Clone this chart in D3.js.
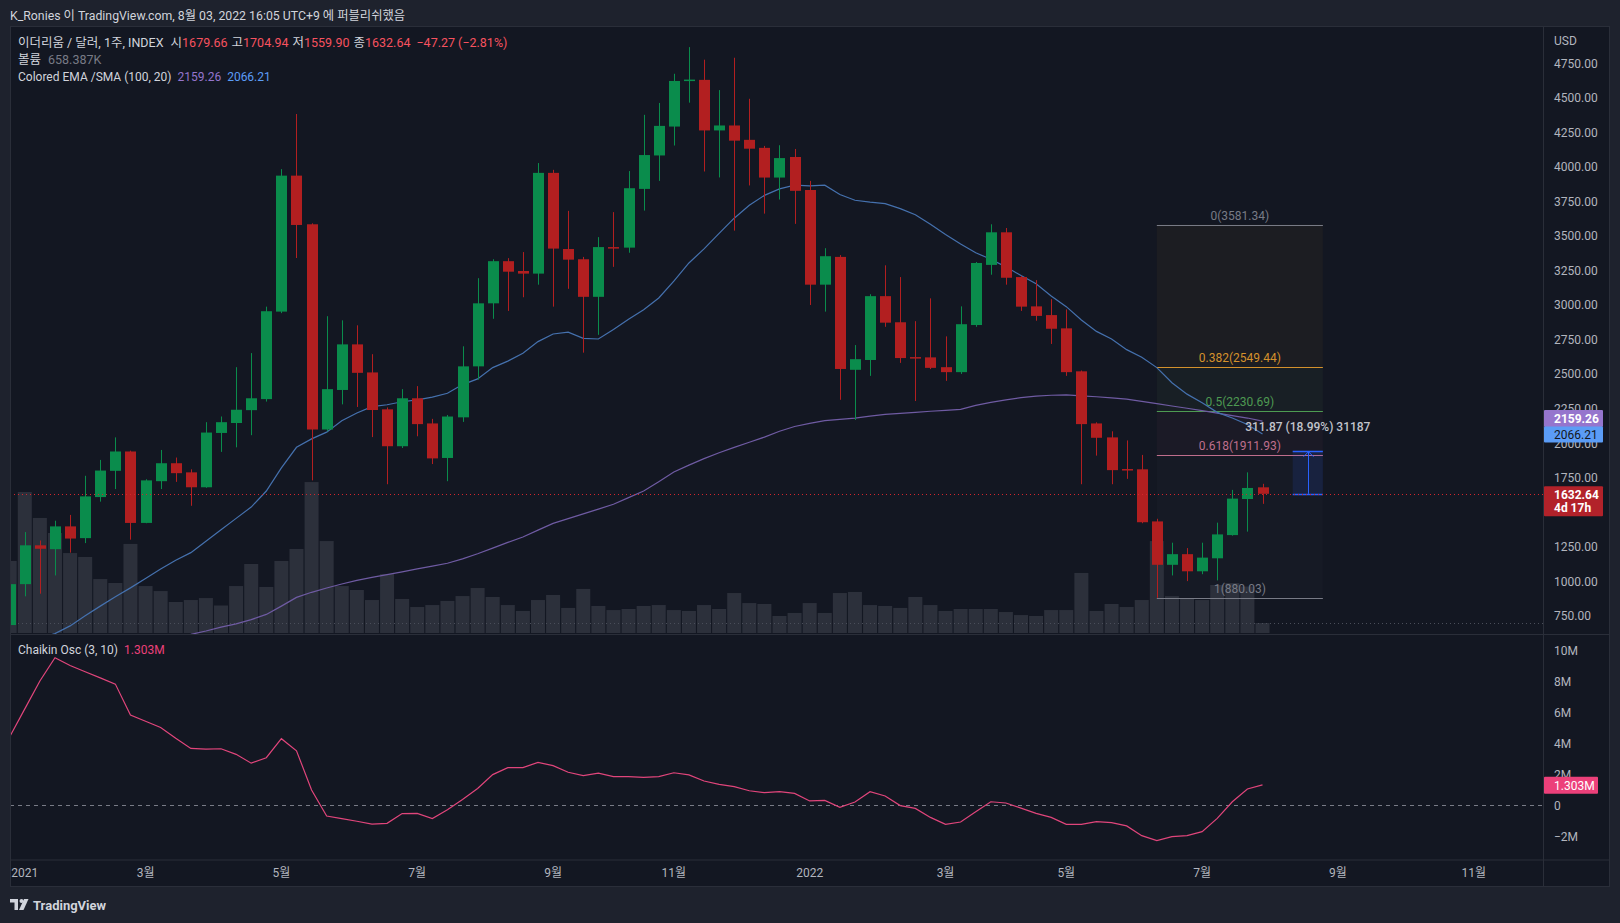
<!DOCTYPE html>
<html><head><meta charset="utf-8">
<script src="https://cdnjs.cloudflare.com/ajax/libs/d3/7.8.5/d3.min.js"></script>
<style>
html,body{margin:0;padding:0;background:#1e222d;overflow:hidden;}
svg{display:block;font-family:Roboto,"Noto Sans CJK KR",sans-serif;}
</style></head><body>
<svg id="c" width="1620" height="923"></svg>
<script>
// ---------- DATA ----------
const dates = ["2020-12-28","2021-01-04","2021-01-11","2021-01-18","2021-01-25","2021-02-01","2021-02-08","2021-02-15","2021-02-22",
"2021-03-01","2021-03-08","2021-03-15","2021-03-22","2021-03-29","2021-04-05","2021-04-12","2021-04-19","2021-04-26",
"2021-05-03","2021-05-10","2021-05-17","2021-05-24","2021-05-31","2021-06-07","2021-06-14","2021-06-21","2021-06-28",
"2021-07-05","2021-07-12","2021-07-19","2021-07-26","2021-08-02","2021-08-09","2021-08-16","2021-08-23","2021-08-30",
"2021-09-06","2021-09-13","2021-09-20","2021-09-27","2021-10-04","2021-10-11","2021-10-18","2021-10-25",
"2021-11-01","2021-11-08","2021-11-15","2021-11-22","2021-11-29","2021-12-06","2021-12-13","2021-12-20","2021-12-27",
"2022-01-03","2022-01-10","2022-01-17","2022-01-24","2022-01-31","2022-02-07","2022-02-14","2022-02-21","2022-02-28",
"2022-03-07","2022-03-14","2022-03-21","2022-03-28","2022-04-04","2022-04-11","2022-04-18","2022-04-25",
"2022-05-02","2022-05-09","2022-05-16","2022-05-23","2022-05-30","2022-06-06","2022-06-13","2022-06-20","2022-06-27",
"2022-07-04","2022-07-11","2022-07-18","2022-07-25","2022-08-01"];
const open  = [683,979,1260,1232,1397,1312,1609,1799,1939,1422,1724,1854,1788,1680,2073,2145,2238,2318,2951,3935,3583,2098,2384,2714,2511,2244,1977,2324,2142,1892,2186,2555,3011,3316,3245,3226,3955,3404,3330,3058,3418,3414,3839,4081,4290,4620,4628,4262,4298,4194,4136,3921,4070,3831,3146,3347,2530,2601,3063,2874,2622,2620,2549,2513,2854,3289,3525,3201,2989,2926,2830,2519,2142,2041,1812,1810,1433,1119,1196,1072,1166,1334,1595,1679.66];
const high  = [990,1356,1295,1438,1480,1763,1878,2041,1945,1738,1950,1895,1810,2151,2192,2549,2651,2987,3982,4381,3590,2918,2888,2852,2643,2258,2390,2412,2175,2203,2700,3193,3330,3338,3382,4026,3977,3680,3347,3490,3671,3968,4375,4461,4672,4865,4774,4554,4788,4491,4150,4155,4128,3897,3410,3360,2709,3077,3286,3201,2882,3047,2772,2989,3310,3583,3556,3210,3179,3041,2967,2525,2150,2085,2019,1914,1452,1279,1240,1279,1424,1661,1788,1704.94];
const low   = [676,891,910,1042,1207,1276,1576,1667,1301,1420,1667,1719,1546,1676,1936,1969,2057,2300,2940,3339,1730,2085,2280,2261,2043,1702,1964,2049,1848,1724,2153,2459,2899,2956,3055,3146,2987,3116,2654,2783,3275,3377,3682,3897,4153,4463,3965,3922,3537,3864,3660,3762,3586,2999,2951,2313,2167,2486,2841,2580,2304,2535,2450,2500,2841,3218,3146,2956,2885,2717,2486,1702,1909,1702,1741,1420,880.03,1042,1001,1051,1006,1330,1359,1559.90];
const close = [979,1260,1235,1397,1309,1614,1801,1939,1422,1730,1854,1782,1680,2076,2151,2241,2324,2954,3935,3578,2098,2390,2714,2508,2239,1977,2324,2137,1889,2192,2555,3011,3316,3240,3226,3955,3407,3327,3058,3418,3415,3844,4084,4295,4620,4630,4262,4298,4188,4130,3921,4062,3825,3146,3352,2536,2607,3063,2871,2615,2618,2544,2513,2860,3303,3525,3196,2987,2920,2827,2513,2137,2038,1804,1806,1427,1119,1196,1072,1171,1339,1598,1675,1632.64];
// volume in thousands
const volume = [4740,9280,7570,6580,5260,5000,3550,3290,5860,3090,2760,2040,2170,2300,1810,3090,4540,3030,4740,5530,9930,6050,3090,2830,2170,3880,2240,1710,1840,2110,2430,2960,2370,1840,1450,2170,2500,1650,2900,1780,1510,1580,1780,1840,1510,1450,1840,1580,2630,1970,1910,1120,1320,1970,1320,2630,2700,1840,1780,1650,2370,1840,1450,1580,1580,1580,1380,1180,1120,1510,1510,3950,1450,1910,1710,2170,6050,2430,2240,2170,3160,3290,3060,658.387];
// SMA(20) blue, EMA(100) purple
const sma20 = [null,null,590,621,677,751,820,888,952,1020,1089,1152,1207,1290,1372,1455,1537,1653,1820,1969,2030,2079,2162,2217,2263,2277,2299,2313,2332,2360,2423,2464,2546,2593,2650,2734,2789,2802,2758,2753,2822,2896,2965,3050,3171,3303,3405,3517,3627,3721,3792,3839,3866,3861,3866,3798,3757,3743,3732,3696,3652,3583,3509,3440,3377,3330,3275,3212,3152,3064,2987,2890,2808,2753,2676,2621,2546,2436,2354,2291,2222,2181,2134,2066.21];
const ema100 = [null,null,null,null,null,null,null,null,null,null,null,null,615,640,668,692,722,760,820,883,920,951,980,1006,1028,1048,1068,1089,1110,1130,1162,1199,1240,1281,1320,1370,1419,1453,1488,1522,1557,1605,1653,1720,1790,1840,1887,1930,1969,2006,2043,2085,2120,2142,2162,2172,2181,2195,2208,2215,2222,2230,2236,2244,2272,2294,2313,2329,2340,2346,2349,2342,2335,2327,2318,2302,2285,2268,2252,2234,2216,2198,2181,2159.26];
// Chaikin oscillator (millions)
const chaikin = [4.4,6.2,8.0,9.5,9.0,8.6,8.2,7.8,5.8,5.4,5.0,4.3,3.65,3.6,3.63,3.27,2.7,3.05,4.28,3.5,0.97,-0.71,-0.88,-1.05,-1.23,-1.18,-0.55,-0.54,-0.87,-0.3,0.35,1.07,1.96,2.41,2.41,2.75,2.54,2.11,1.89,2.06,1.83,1.83,1.78,1.83,2.08,1.94,1.55,1.33,1.18,0.92,0.80,0.86,0.75,0.26,0.30,-0.15,0.19,0.86,0.58,-0.04,-0.22,-0.80,-1.25,-1.10,-0.43,0.21,0.13,-0.2,-0.54,-0.80,-1.25,-1.25,-1.07,-1.14,-1.35,-1.98,-2.30,-2.04,-1.98,-1.72,-0.86,0.21,1.03,1.303];

const priceTicks = [750,1000,1250,1500,1750,2000,2250,2500,2750,3000,3250,3500,3750,4000,4250,4500,4750];
const oscTicks = [-2,0,2,4,6,8,10];
const oscTickLabels = ["−2M","0","2M","4M","6M","8M","10M"];
const timeTickDates = ["2021-01-04","2021-03-01","2021-05-03","2021-07-05","2021-09-06","2021-11-01","2022-01-03","2022-03-07","2022-05-02","2022-07-04","2022-09-05","2022-11-07"];
const timeTickLabels = ["2021","3월","5월","7월","9월","11월","2022","3월","5월","7월","9월","11월"];
const fibLevels = [0,0.382,0.5,0.618,1];
const fibPrices = [3581.34,2549.44,2230.69,1911.93,880.03];
const fibColors = ["#787b86","#d4912c","#4e9a52","#bf6e8c","#787b86"];
const fibFills = ["#1c1d22","#181f25","#1b1a26","#161a25"];
const fibRange = ["2022-06-13","2022-08-29"];
const measureRange = ["2022-08-15","2022-08-29"];
const measureMid = "2022-08-22";
const measureFrom = 1632.64, measureTo = 1944.51;

// ---------- SETUP ----------
const parse = d3.utcParse("%Y-%m-%d");
const data = dates.map((d,i)=>({date:parse(d),o:open[i],h:high[i],l:low[i],c:close[i],v:volume[i],sma:sma20[i],ema:ema100[i],osc:chaikin[i]}));
const svg = d3.select("#c");
const W=1620,H=923;
const PL=10, PR=1543.5, PT=27, PB=634, OT=635, OB=859.5, TB=886;

const x = d3.scaleUtc().domain([parse(dates[0]), parse(dates[dates.length-1])]).range([9.7,1262.5]);
const y = d3.scaleLinear().domain([750,4750]).range([615.8,63.0]);
const yv = d3.scaleLinear().domain([0,10000]).range([633,481]);
const yo = d3.scaleLinear().domain([-2,10]).range([836,650]);

// backgrounds
svg.append("rect").attr("width",W).attr("height",H).attr("fill","#1e222d");
svg.append("rect").attr("x",PL).attr("y",26).attr("width",1600).attr("height",TB-26).attr("fill","#131722");

const defs = svg.append("defs");
defs.append("clipPath").attr("id","cp").append("rect").attr("x",PL+0.5).attr("y",PT).attr("width",PR-PL-0.5).attr("height",PB-PT);
defs.append("clipPath").attr("id","co").append("rect").attr("x",PL+0.5).attr("y",OT).attr("width",PR-PL-0.5).attr("height",OB-OT);

const gp = svg.append("g").attr("clip-path","url(#cp)");
const go = svg.append("g").attr("clip-path","url(#co)");

// fib fills
const fx0 = x(parse(fibRange[0])), fx1 = x(parse(fibRange[1]));
for(let i=0;i<4;i++){
  gp.append("rect").attr("x",fx0).attr("width",fx1-fx0)
    .attr("y",y(fibPrices[i])).attr("height",y(fibPrices[i+1])-y(fibPrices[i]))
    .attr("fill",fibFills[i]);
}

// volume
gp.selectAll("rect.vol").data(data).enter().append("rect").attr("class","vol")
  .attr("x",d=>x(d.date)-7).attr("width",14)
  .attr("y",d=>yv(d.v)).attr("height",d=>yv(0)-yv(d.v))
  .attr("fill","#2c303b");
// last volume dotted line
const lvy = Math.round(yv(volume[volume.length-1]))+0.5;
gp.append("line").attr("x1",PL).attr("x2",PR).attr("y1",lvy).attr("y2",lvy)
  .attr("stroke","#4a4e5a").attr("stroke-dasharray","1,3");

// fib lines & labels
fibPrices.forEach((p,i)=>{
  const yy=Math.round(y(p))+0.5;
  gp.append("line").attr("x1",fx0).attr("x2",fx1).attr("y1",yy).attr("y2",yy).attr("stroke",fibColors[i]).attr("stroke-width",1);
  gp.append("text").attr("x",(fx0+fx1)/2).attr("y",yy-5.5).attr("text-anchor","middle")
    .attr("font-size",12).attr("fill",fibColors[i]).text(fibLevels[i]+"("+p.toFixed(2)+")");
});

// measure box
const mx0=x(parse(measureRange[0])), mx1=x(parse(measureRange[1])), mxm=Math.round(x(parse(measureMid)))+0.5;
gp.append("rect").attr("x",mx0).attr("width",mx1-mx0).attr("y",y(measureTo)).attr("height",y(measureFrom)-y(measureTo)).attr("fill","rgba(41,98,255,0.12)");
[measureFrom,measureTo].forEach(p=>{
  const yy=Math.round(y(p))+0.5;
  gp.append("line").attr("x1",mx0).attr("x2",mx1).attr("y1",yy).attr("y2",yy).attr("stroke","#2962ff").attr("stroke-width",1.5);
});
gp.append("line").attr("x1",mxm).attr("x2",mxm).attr("y1",y(measureFrom)).attr("y2",y(measureTo)+1).attr("stroke","#2962ff");
gp.append("path").attr("d",`M${mxm-5},${y(measureTo)+6} L${mxm},${y(measureTo)+1} L${mxm+5},${y(measureTo)+6}`).attr("fill","none").attr("stroke","#2962ff");

// moving averages
const lineSma = d3.line().defined(d=>d.sma!=null).x(d=>x(d.date)).y(d=>y(d.sma));
const lineEma = d3.line().defined(d=>d.ema!=null).x(d=>x(d.date)).y(d=>y(d.ema));
gp.append("path").attr("d",lineEma(data)).attr("fill","none").attr("stroke","#6f5ba3").attr("stroke-width",1.2);
gp.append("path").attr("d",lineSma(data)).attr("fill","none").attr("stroke","#4571ae").attr("stroke-width",1.2);

// candles
const up="#0a8c4c", dn="#b21f20";
const cg = gp.selectAll("g.cd").data(data).enter().append("g");
cg.append("line").attr("x1",d=>Math.round(x(d.date))+0.5).attr("x2",d=>Math.round(x(d.date))+0.5)
  .attr("y1",d=>y(d.h)).attr("y2",d=>y(d.l)).attr("stroke",d=>d.c>=d.o?up:dn).attr("stroke-width",1);
cg.append("rect").attr("x",d=>Math.round(x(d.date))-5).attr("width",11)
  .attr("y",d=>y(Math.max(d.o,d.c))).attr("height",d=>Math.max(1.5,Math.abs(y(d.o)-y(d.c))))
  .attr("fill",d=>d.c>=d.o?up:dn);

// last price dotted line
const lp = Math.round(y(close[close.length-1]))+0.5;
svg.append("line").attr("x1",PL).attr("x2",PR).attr("y1",lp).attr("y2",lp).attr("stroke","#d2262d").attr("stroke-dasharray","1,3");

// measure label
svg.append("text").attr("x",(mx0+mx1)/2).attr("y",y(measureTo)-20).attr("text-anchor","middle")
  .attr("font-size",12).attr("font-weight",500).attr("fill","#c2c4cc")
  .text("311.87 (18.99%) 31187");

// oscillator
go.append("line").attr("x1",PL).attr("x2",PR).attr("y1",Math.round(yo(0))+0.5).attr("y2",Math.round(yo(0))+0.5)
  .attr("stroke","#787b86").attr("stroke-dasharray","4,4");
const lineOsc = d3.line().x(d=>x(d.date)).y(d=>yo(d.osc));
go.append("path").attr("d",lineOsc(data)).attr("fill","none").attr("stroke","#e0457b").attr("stroke-width",1.2);

// borders
const bc="#2a2e39";
svg.append("rect").attr("x",PL+0.5).attr("y",26.5).attr("width",1599).attr("height",TB-26).attr("fill","none").attr("stroke",bc);
svg.append("line").attr("x1",PR).attr("x2",PR).attr("y1",26).attr("y2",TB).attr("stroke",bc);
svg.append("line").attr("x1",PL).attr("x2",1610).attr("y1",PB+0.5).attr("y2",PB+0.5).attr("stroke",bc);
svg.append("line").attr("x1",PL).attr("x2",1610).attr("y1",OB+0.5).attr("y2",OB+0.5).attr("stroke",bc);

// value tags (defined first so ticks hidden behind them can be skipped)
const tags = [
  {yc:y(2159.26)-2.5,h:17,bg:"#9575cd",lines:[{s:"2159.26",b:true}],fg:"#ffffff",w:59},
  {yc:y(2066.21)+0.5,h:16,bg:"#5b9cf6",lines:[{s:"2066.21",b:false}],fg:"#131722",w:59},
  {yc:y(1632.64)+7.5,h:30,bg:"#b2222a",lines:[{s:"1632.64",b:true},{s:"4d 17h",b:true}],fg:"#ffffff",w:59},
  {yc:yo(1.303)+0.5,h:17,bg:"#ec407a",lines:[{s:"1.303M",b:false}],fg:"#ffffff",w:54}
];
const hidden = yy => tags.some(t=>Math.abs(yy-t.yc) < t.h/2);

// price axis
const ax = svg.append("g").attr("font-size",12).attr("fill","#b2b5be");
priceTicks.forEach(p=>{
  if(hidden(y(p))) return;
  ax.append("text").attr("x",1554).attr("y",y(p)+4.5).text(p.toFixed(2));
});
ax.append("text").attr("x",1554).attr("y",44.5).text("USD");
oscTicks.forEach((v,i)=>{
  if(hidden(yo(v))) return;
  ax.append("text").attr("x",1554).attr("y",yo(v)+4.5).text(oscTickLabels[i]);
});
// time axis
timeTickDates.forEach((d,i)=>{
  ax.append("text").attr("x",x(parse(d))).attr("y",877).attr("text-anchor","middle").text(timeTickLabels[i]);
});

tags.forEach(t=>{
  svg.append("rect").attr("x",1544).attr("y",t.yc-t.h/2).attr("width",t.w).attr("height",t.h).attr("fill",t.bg).attr("rx",1);
  t.lines.forEach((l,i)=>{
    svg.append("text").attr("x",1554).attr("y",t.yc-t.h/2+13+i*13).attr("font-size",12).attr("font-weight",l.b?700:400).attr("fill",t.fg).text(l.s);
  });
});

// header
svg.append("text").attr("x",10).attr("y",19.5).attr("font-size",12.3).attr("fill","#d1d4dc")
  .text("K_Ronies 이 TradingView.com, 8월 03, 2022 16:05 UTC+9 에 퍼블리쉬했음");

// legends
const red="#f7525f";
const l1 = svg.append("text").attr("x",18).attr("y",47).attr("font-size",12.5).attr("fill","#d1d4dc");
l1.append("tspan").text("이더리움 / 달러, 1주, INDEX ");
[["시","1679.66"],["고","1704.94"],["저","1559.90"],["종","1632.64"]].forEach(a=>{
  l1.append("tspan").attr("dx",4).text(a[0]);
  l1.append("tspan").attr("fill",red).text(a[1]);
});
l1.append("tspan").attr("dx",6).attr("fill",red).text("−47.27 (−2.81%)");
const l2 = svg.append("text").attr("x",18).attr("y",64).attr("font-size",12.5).attr("fill","#d1d4dc");
l2.append("tspan").text("볼륨");
l2.append("tspan").attr("dx",7).attr("fill","#787b86").text("658.387K");
const l3 = svg.append("text").attr("x",18).attr("y",80.5).attr("font-size",12).attr("fill","#d1d4dc");
l3.append("tspan").text("Colored EMA /SMA (100, 20)");
l3.append("tspan").attr("dx",6).attr("fill","#9575cd").text("2159.26");
l3.append("tspan").attr("dx",6).attr("fill","#5b9cf6").text("2066.21");
const l4 = svg.append("text").attr("x",18).attr("y",653.5).attr("font-size",12).attr("fill","#d1d4dc");
l4.append("tspan").text("Chaikin Osc (3, 10)");
l4.append("tspan").attr("dx",6).attr("fill","#ec407a").text("1.303M");

// footer logo
const lg = svg.append("g").attr("fill","#d1d4dc");
lg.append("path").attr("d","M10,899 h8 v11 h-3.5 v-7.5 h-4.5z");
lg.append("circle").attr("cx",21.5).attr("cy",901).attr("r",2);
lg.append("path").attr("d","M24,899 h4.5 l-5,11 h-4.5z");
svg.append("text").attr("x",33).attr("y",909.5).attr("font-size",13).attr("font-weight",700).attr("fill","#d1d4dc").text("TradingView");
</script>
</body></html>
